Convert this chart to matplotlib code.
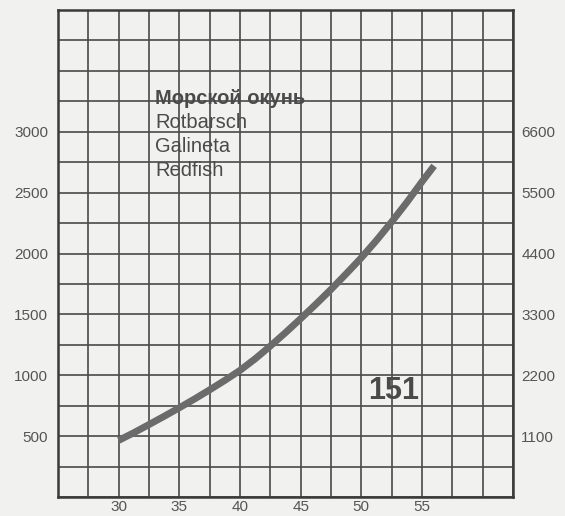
import matplotlib
matplotlib.use("Agg")
import matplotlib.pyplot as plt
import numpy as np

# Data
length_cm = [30, 31.25, 32.5, 33.75, 35, 36.25, 37.5, 38.75, 40, 41.25, 42.5,
             43.75, 45, 46.25, 47.5, 48.75, 50, 51.25, 52.5, 53.75, 55, 56]
weight_g = [465, 528, 595, 663, 733, 805, 880, 958, 1040, 1135, 1240,
            1350, 1465, 1583, 1705, 1833, 1965, 2108, 2260, 2420, 2590, 2720]

x_ticks = [30, 35, 40, 45, 50, 55]
y_left_ticks = [500, 1000, 1500, 2000, 2500, 3000]
y_right_ticks = [1100, 2200, 3300, 4400, 5500, 6600]
title_lines = ["Морской окунь", "Rotbarsch", "Galineta", "Redfish"]
page_number = "151"

x_min, x_max, x_step = 25, 62.5, 2.5
y_min, y_max, y_step = 0, 4000, 250
right_factor = 2.2

plt.rcParams["font.family"] = ["Liberation Sans", "DejaVu Sans"]

bg = "#f1f1ef"
grid_c = "#4a4a4a"
text_c = "#555555"

fig = plt.figure(figsize=(5.65, 5.16), dpi=100, facecolor=bg)
ax = fig.add_axes([58/565, 19/516, 455/565, 487/516])
ax.set_facecolor(bg)
ax.set_xlim(x_min, x_max)
ax.set_ylim(y_min, y_max)

ax.set_xticks(np.arange(x_min, x_max + 0.01, x_step), minor=True)
ax.set_yticks(np.arange(y_min, y_max + 0.01, y_step), minor=True)
ax.set_xticks(x_ticks)
ax.set_yticks(y_left_ticks)
ax.grid(True, which="both", color=grid_c, linewidth=1.2)
ax.tick_params(which="both", length=0)
ax.tick_params(axis="x", labelsize=11, labelcolor=text_c, pad=2)
ax.tick_params(axis="y", labelsize=11, labelcolor=text_c, pad=7)
for s in ax.spines.values():
    s.set_color("#3a3a3a")
    s.set_linewidth(1.8)

ax2 = ax.twinx()
ax2.set_ylim(y_min * right_factor, y_max * right_factor)
ax2.set_yticks(y_right_ticks)
ax2.tick_params(length=0, labelsize=11, labelcolor=text_c, pad=6)
for s in ax2.spines.values():
    s.set_visible(False)

ax.plot(length_cm, weight_g, color="#6b6b6b", linewidth=5.0,
        solid_capstyle="butt", solid_joinstyle="round", zorder=5)

# Text block
ax.text(0.213, 0.819, title_lines[0], transform=ax.transAxes, fontsize=14.5,
        fontweight="bold", color="#4a4a4a", va="center", ha="left")
for i, t in enumerate(title_lines[1:]):
    ax.text(0.213, 0.770 - i * 0.0495, t, transform=ax.transAxes, fontsize=14.5,
            color="#4a4a4a", va="center", ha="left")

ax.text(0.738, 0.218, page_number, transform=ax.transAxes, fontsize=22,
        fontweight="bold", color="#4a4a4a", va="center", ha="center")

fig.savefig("out.png", dpi=100, facecolor=bg)
